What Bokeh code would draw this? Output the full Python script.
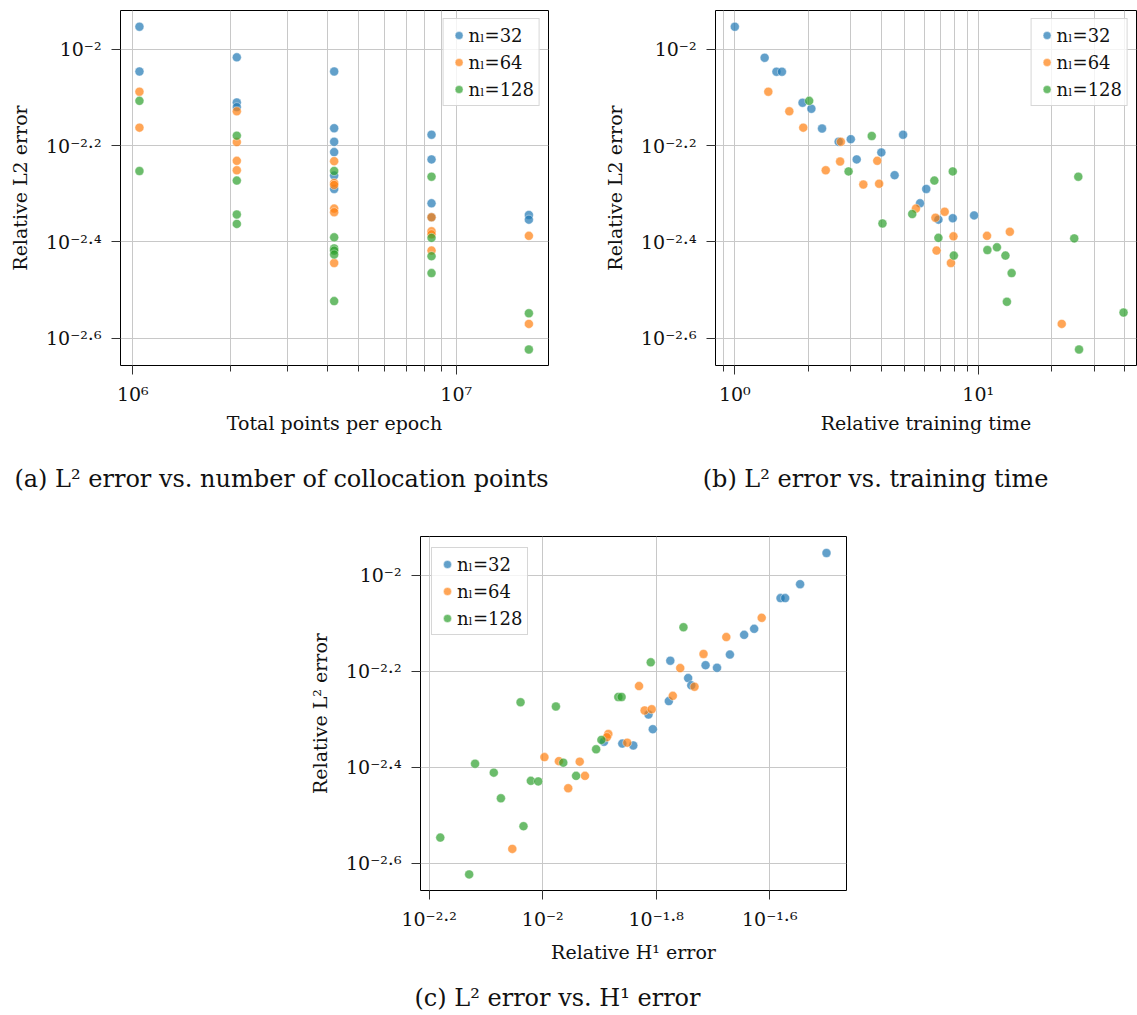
import math
from bokeh.plotting import figure
from bokeh.models import Range1d, FixedTicker, Label, Spacer
from bokeh.layouts import column, row
from bokeh.embed import file_html
from bokeh.resources import INLINE

FONT = "DejaVu Serif"
TEXT_COLOR = "#111111"
SERIES = ["n\u2097=32", "n\u2097=64", "n\u2097=128"]
COLORS = ["#1f77b4", "#ff7f0e", "#2ca02c"]

# ---------------- (a) L2 error vs. total points per epoch ----------------
A_X_32 = [1048576, 1048576, 2097152, 2097152, 2097152, 4194304, 4194304, 4194304,
          4194304, 4194304, 4194304, 8388608, 8388608, 8388608, 8388608, 16777216, 16777216]
A_Y_32 = [0.01115, 0.00900, 0.00963, 0.00776, 0.00759, 0.00900, 0.00686, 0.00643,
          0.00612, 0.00547, 0.00513, 0.00665, 0.00591, 0.00479, 0.00448, 0.00453, 0.00443]
A_X_64 = [1048576, 1048576, 2097152, 2097152, 2097152, 2097152, 4194304, 4194304, 4194304,
          4194304, 4194304, 4194304, 8388608, 8388608, 8388608, 8388608, 16777216, 16777216]
A_Y_64 = [0.00817, 0.00688, 0.00744, 0.00642, 0.00587, 0.00561, 0.00586, 0.00528, 0.00523,
          0.00467, 0.00459, 0.00360, 0.00448, 0.00419, 0.00413, 0.00382, 0.00410, 0.00269]
A_X_128 = [1048576, 1048576, 2097152, 2097152, 2097152, 2097152, 4194304, 4194304, 4194304,
           4194304, 4194304, 4194304, 8388608, 8388608, 8388608, 8388608, 16777216, 16777216]
A_Y_128 = [0.00782, 0.00559, 0.00662, 0.00534, 0.00454, 0.00434, 0.00559, 0.00407, 0.00386,
           0.00382, 0.00375, 0.00300, 0.00544, 0.00406, 0.00372, 0.00343, 0.00283, 0.00238]

# ---------------- (b) L2 error vs. relative training time ----------------
B_X_32 = [1.00, 1.326, 1.483, 1.562, 1.898, 2.064, 2.283, 2.671, 2.996,
          3.168, 4.000, 4.535, 4.913, 6.118, 5.768, 6.865, 7.863, 9.621]
B_Y_32 = [0.01115, 0.00961, 0.00899, 0.00899, 0.00775, 0.00753, 0.00685, 0.00643, 0.00651,
          0.00591, 0.00611, 0.00548, 0.00665, 0.00513, 0.00479, 0.00443, 0.00446, 0.00452]
B_X_64 = [1.373, 1.675, 1.911, 2.727, 2.708, 2.364, 3.849, 3.373, 3.917,
          5.549, 7.281, 6.674, 7.915, 6.744, 7.725, 10.87, 13.49, 22.04]
B_Y_64 = [0.00817, 0.00744, 0.00688, 0.00643, 0.00585, 0.00561, 0.00587, 0.00524, 0.00526,
          0.00467, 0.00460, 0.00447, 0.00409, 0.00382, 0.00360, 0.00410, 0.00418, 0.00269]
B_X_128 = [2.021, 3.653, 2.934, 4.043, 5.359, 6.605, 7.863, 6.865, 7.943,
           10.91, 11.94, 12.94, 13.72, 13.12, 25.78, 24.81, 25.96, 39.56]
B_Y_128 = [0.00782, 0.00661, 0.00558, 0.00435, 0.00455, 0.00534, 0.00558, 0.00406, 0.00373,
           0.00383, 0.00388, 0.00373, 0.00343, 0.00299, 0.00544, 0.00405, 0.00238, 0.00284]

# ---------------- (c) L2 error vs. H1 error ----------------
C_X_32 = [0.03162, 0.02841, 0.02624, 0.02674, 0.02358, 0.02264, 0.02137, 0.02028, 0.01936,
          0.01678, 0.01804, 0.01827, 0.01668, 0.01536, 0.01563, 0.01444, 0.01381, 0.01282]
C_Y_32 = [0.01114, 0.00959, 0.00897, 0.00897, 0.00774, 0.00752, 0.00684, 0.00642, 0.00650,
          0.00664, 0.00611, 0.00590, 0.00547, 0.00513, 0.00478, 0.00442, 0.00446, 0.00450]
C_X_64 = [0.02431, 0.02106, 0.01920, 0.01747, 0.01851, 0.01695, 0.01478, 0.01512, 0.01556,
          0.01305, 0.01297, 0.01409, 0.01007, 0.01068, 0.01162, 0.01187, 0.01109, 0.00884]
C_Y_64 = [0.00816, 0.00744, 0.00686, 0.00641, 0.00586, 0.00561, 0.00588, 0.00523, 0.00526,
          0.00467, 0.00460, 0.00448, 0.00418, 0.00410, 0.00409, 0.00382, 0.00360, 0.00269]
C_X_128 = [0.01770, 0.01550, 0.01359, 0.01377, 0.00914, 0.01055, 0.01269, 0.01242, 0.01087,
           0.00760, 0.00820, 0.00953, 0.00982, 0.01145, 0.00844, 0.00925, 0.00660, 0.00742]
C_Y_128 = [0.00780, 0.00659, 0.00558, 0.00558, 0.00544, 0.00533, 0.00454, 0.00434, 0.00407,
           0.00405, 0.00388, 0.00373, 0.00372, 0.00382, 0.00343, 0.00300, 0.00284, 0.00238]

# ---------------- ticks (exponents of 10) and their labels ----------------
Y_TICK_EXPONENTS = [-2.0, -2.2, -2.4, -2.6]
Y_TICK_LABELS = ["10\u207b\u00b2", "10\u207b\u00b2\u00b7\u00b2", "10\u207b\u00b2\u00b7\u2074", "10\u207b\u00b2\u00b7\u2076"]
A_X_TICK_EXPONENTS = [6.0, 7.0]
A_X_TICK_LABELS = ["10\u2076", "10\u2077"]
B_X_TICK_EXPONENTS = [0.0, 1.0]
B_X_TICK_LABELS = ["10\u2070", "10\u00b9"]
C_X_TICK_EXPONENTS = [-2.2, -2.0, -1.8, -1.6]
C_X_TICK_LABELS = ["10\u207b\u00b2\u00b7\u00b2", "10\u207b\u00b2", "10\u207b\u00b9\u00b7\u2078", "10\u207b\u00b9\u00b7\u2076"]

A_X_LABEL = "Total points per epoch"
B_X_LABEL = "Relative training time"
C_X_LABEL = "Relative H\u00b9 error"
AB_Y_LABEL = "Relative L2 error"
C_Y_LABEL = "Relative L\u00b2 error"
A_CAPTION = "(a) L\u00b2 error vs. number of collocation points"
B_CAPTION = "(b) L\u00b2 error vs. training time"
C_CAPTION = "(c) L\u00b2 error vs. H\u00b9 error"

TICK_SIZE = "19px"
LABEL_SIZE = "19px"
CAPTION_SIZE = "24px"


def make_fig(xr, yr, left, right, top, bottom, fw, fh,
             x_exps, x_labels, x_minor, x_label, y_label, x_label_standoff):
    p = figure(x_axis_type="log", y_axis_type="log",
               x_range=Range1d(*xr), y_range=Range1d(*yr),
               frame_width=fw, frame_height=fh,
               min_border_left=left, min_border_right=right,
               min_border_top=top, min_border_bottom=bottom,
               toolbar_location=None, output_backend="svg",
               background_fill_color="white", border_fill_color="white")
    x_ticks = [10 ** e for e in x_exps]
    y_ticks = [10 ** e for e in Y_TICK_EXPONENTS]
    xt = FixedTicker(ticks=x_ticks, minor_ticks=x_minor)
    yt = FixedTicker(ticks=y_ticks, minor_ticks=[])
    p.xaxis.ticker = xt
    p.yaxis.ticker = yt
    p.xgrid.ticker = xt
    p.ygrid.ticker = yt
    p.xaxis.major_label_overrides = dict(zip(x_ticks, x_labels))
    p.yaxis.major_label_overrides = dict(zip(y_ticks, Y_TICK_LABELS))
    p.xaxis.axis_label = x_label
    p.yaxis.axis_label = y_label
    p.xaxis.major_label_standoff = 8
    p.yaxis.major_label_standoff = 10
    p.xaxis.axis_label_standoff = x_label_standoff
    p.yaxis.axis_label_standoff = 12
    for ax in (p.xaxis[0], p.yaxis[0]):
        ax.major_label_text_font = FONT
        ax.major_label_text_font_size = TICK_SIZE
        ax.major_label_text_color = TEXT_COLOR
        ax.axis_label_text_font = FONT
        ax.axis_label_text_font_size = LABEL_SIZE
        ax.axis_label_text_font_style = "normal"
        ax.axis_label_text_color = TEXT_COLOR
        ax.axis_line_color = None
        ax.major_tick_out = 9
        ax.major_tick_in = 0
        ax.minor_tick_out = 6
        ax.minor_tick_in = 0
        ax.major_tick_line_color = "#333333"
        ax.minor_tick_line_color = "#333333"
        ax.major_tick_line_width = 1
        ax.minor_tick_line_width = 1
    p.xgrid.grid_line_color = "#c8c8c8"
    p.xgrid.minor_grid_line_color = "#c8c8c8"
    p.ygrid.grid_line_color = "#c8c8c8"
    p.xgrid.grid_line_width = 1
    p.ygrid.grid_line_width = 1
    p.outline_line_color = "black"
    p.outline_line_width = 1
    p.outline_line_alpha = 1
    return p


def add_points(p, xs, ys):
    for (x, y), c, name in zip(zip(xs, ys), COLORS, SERIES):
        p.scatter(x, y, size=9, fill_color=c, fill_alpha=0.7,
                  line_color="white", line_width=0.6, line_alpha=0.7, legend_label=name)


def style_legend(p, loc, margin):
    lg = p.legend[0]
    lg.location = loc
    lg.margin = margin
    lg.padding = 5
    lg.spacing = 5
    lg.label_height = 22
    lg.glyph_height = 22
    lg.glyph_width = 20
    lg.label_standoff = 0
    lg.label_text_font = FONT
    lg.label_text_font_size = "18px"
    lg.label_text_color = TEXT_COLOR
    lg.border_line_color = "#cccccc"
    lg.border_line_alpha = 0.8
    lg.background_fill_alpha = 0.8


def caption_strip(width, height, items):
    s = figure(width=width, height=height, x_range=Range1d(0, width), y_range=Range1d(0, height),
               min_border=0, toolbar_location=None, output_backend="svg",
               x_axis_location=None, y_axis_location=None,
               background_fill_color="white", border_fill_color="white")
    s.outline_line_color = None
    s.grid.visible = False
    for text, cx, cy in items:
        s.add_layout(Label(x=cx, y=height - cy, text=text, text_font=FONT,
                           text_font_size=CAPTION_SIZE, text_color=TEXT_COLOR,
                           text_align="center", text_baseline="middle"))
    return s


# ---------------- panel (a) ----------------
A_XR = (10 ** 5.962, 10 ** 7.2854)
AB_YR = (10 ** -2.6567, 10 ** -1.919)
A_XMINOR = [k * 1e6 for k in range(2, 10)]
p1 = make_fig(A_XR, AB_YR, 120, 22, 10, 95, 428, 355,
              A_X_TICK_EXPONENTS, A_X_TICK_LABELS, A_XMINOR, A_X_LABEL, AB_Y_LABEL, 4)
add_points(p1, [A_X_32, A_X_64, A_X_128], [A_Y_32, A_Y_64, A_Y_128])
style_legend(p1, "top_right", 8)

# ---------------- panel (b) ----------------
B_XR = (10 ** -0.0793, 10 ** 1.6504)
B_XMINOR = [0.9] + [float(k) for k in range(2, 10)] + [20.0, 30.0, 40.0]
p2 = make_fig(B_XR, AB_YR, 145, 1, 10, 95, 421, 355,
              B_X_TICK_EXPONENTS, B_X_TICK_LABELS, B_XMINOR, B_X_LABEL, AB_Y_LABEL, 4)
add_points(p2, [B_X_32, B_X_64, B_X_128], [B_Y_32, B_Y_64, B_Y_128])
style_legend(p2, "top_right", 8)

# ---------------- panel (c) ----------------
C_XR = (10 ** -2.2153, 10 ** -1.4648)
C_YR = (10 ** -2.657, 10 ** -1.9187)
p3 = make_fig(C_XR, C_YR, 120, 20, 31, 80, 426, 354,
              C_X_TICK_EXPONENTS, C_X_TICK_LABELS, [], C_X_LABEL, C_Y_LABEL, 8)
add_points(p3, [C_X_32, C_X_64, C_X_128], [C_Y_32, C_Y_64, C_Y_128])
style_legend(p3, "top_left", 11)

cap_ab = caption_strip(1137, 45, [(A_CAPTION, 281, 18), (B_CAPTION, 875, 18)])
cap_c = caption_strip(1137, 45, [(C_CAPTION, 557, 27)])

layout = column(row(p1, p2), cap_ab, row(Spacer(width=300, height=10), p3), cap_c)

with open("out.html", "w") as f:
    f.write(file_html(layout, INLINE))
